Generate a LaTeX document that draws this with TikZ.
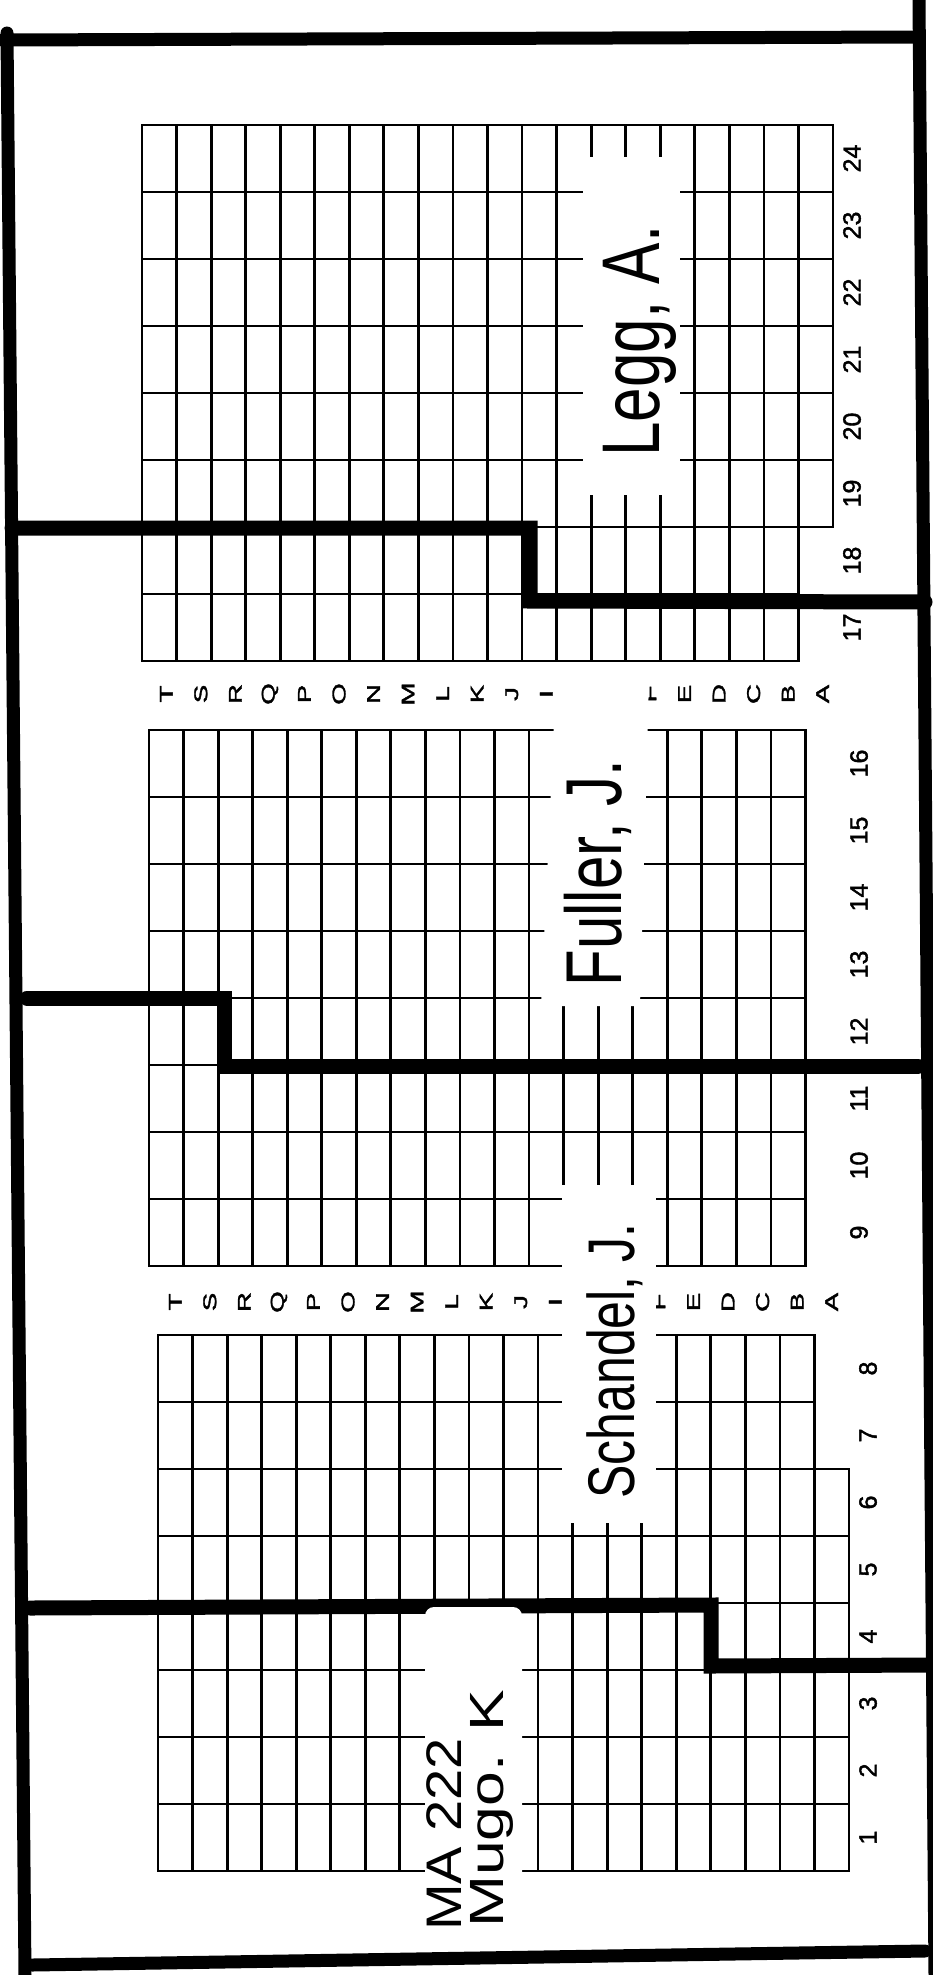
\documentclass[tikz,border=0pt]{standalone}
\usepackage{fontspec}
\setmainfont{Liberation Sans}
\newfontfamily\printfont[FakeBold=1.6]{Liberation Sans}
\usepackage{graphicx}
\usepackage{tikz}
\usetikzlibrary{positioning}
\newcommand{\seatw}{34.55}
\newcommand{\seath}{67}
\newcommand{\tall}[1]{\scalebox{1}[1.32]{#1}}

\begin{document}
\begin{tikzpicture}[x=1pt, y=-1pt,
    seat/.style={draw=black, line width=2.8pt},
    wall/.style={draw=black, line width=15pt, line cap=round},
    frame/.style={draw=black, line width=13pt, line cap=round},
    rowletter/.style={rotate=90, inner sep=0pt, font=\printfont\fontsize{18.5}{18.5}\selectfont},
    seatno/.style={rotate=90, inner sep=0pt, font=\printfont\fontsize{25}{25}\selectfont},
    hand/.style={rotate=90, inner sep=0pt, anchor=base}]
  \useasboundingbox[fill=white] (0,0) rectangle (932,1975);

  \foreach \r in {0,...,7} {
    \pgfmathtruncatemacro{\ncols}{\r<6 ? 20 : 19}
    \foreach \c in {1,...,\ncols}
      \draw[seat] ({142+(\c-1)*\seatw},{125+\r*\seath}) rectangle ++(\seatw,\seath);
  }
  \foreach \r in {0,...,7} {
    \foreach \c in {1,...,19}
      \draw[seat] ({149+(\c-1)*\seatw},{730+\r*\seath}) rectangle ++(\seatw,\seath);
  }
  \foreach \r in {0,...,7} {
    \pgfmathtruncatemacro{\ncols}{\r<2 ? 19 : 20}
    \foreach \c in {1,...,\ncols}
      \draw[seat] ({158+(\c-1)*\seatw},{1335+\r*\seath}) rectangle ++(\seatw,\seath);
  }

  \foreach \s in {17,...,24} \node[seatno] (no\s) at (852,{125+(24.5-\s)*\seath}) {\s};
  \foreach \s in {9,...,16} \node[seatno] (no\s) at (859,{730+(16.5-\s)*\seath}) {\s};
  \foreach \s in {1,...,8} \node[seatno] (no\s) at (868,{1335+(8.5-\s)*\seath}) {\s};

  \foreach \letter/\col in {T/0,S/1,R/2,Q/3,P/4,O/5,N/6,M/7,L/8,K/9,J/10,I/11,F/14,E/15,D/16,C/17,B/18,A/19} {
    \node[rowletter] (up\letter) at ({149+(\col+0.5)*\seatw},694) {\scalebox{1.5}[1]{\letter}};
    \node[rowletter] (low\letter) at ({158+(\col+0.5)*\seatw},1302) {\scalebox{1.5}[1]{\letter}};
  }

  \draw[frame] (2,40) -- (918,37);
  \draw[frame] (919,0) -- (935,1975);
  \draw[frame] (7,33) -- (25,1975);
  \draw[frame] (32,1965) -- (925,1951);

  \draw[wall] (12,528) -- (530,528) -- (530,601) -- (925,602);
  \draw[wall] (27,998) -- (224,998) -- (224,1066) -- (918,1066);
  \draw[wall] (30,1608) -- (711,1605) -- (711,1666) -- (932,1665);

  \fill[white] (583,157) rectangle (680,495);
  \fill[white] (556,680) -- (649,680) -- (640,1006) -- (541,1006) -- cycle;
  \fill[white] (562,1185) rectangle (656,1523);
  \fill[white] (425,1942) [rounded corners=9] -- (425,1607) -- (522,1607) [sharp corners] -- (522,1942) -- cycle;

  \node[hand, font=\fontsize{62}{62}\selectfont] (legg) at (659,341) {\tall{Legg, A.}};
  \node[hand, font=\fontsize{60}{60}\selectfont] (fuller) at (621,873) {\tall{Fuller, J.}};
  \node[hand, font=\fontsize{50}{50}\selectfont] (schandel) at (634,1361) {\tall{Schandel, J.}};
  \node[hand, anchor=base west, font=\fontsize{50}{50}\selectfont] (course) at (461,1931) {\scalebox{1.12}[1]{MA 222}};
  \node[hand, anchor=base west, font=\fontsize{48}{48}\selectfont] (mugo) at (503,1928) {\scalebox{1.3}[1]{Mugo. K}};
\end{tikzpicture}
\end{document}
